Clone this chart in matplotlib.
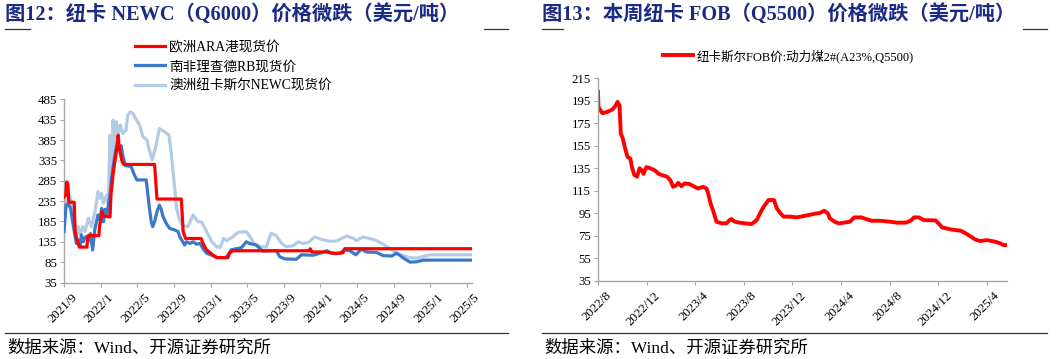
import pandas as pd
import matplotlib.pyplot as plt
from matplotlib.lines import Line2D
from matplotlib.transforms import ScaledTranslation

plt.rcParams['font.family'] = ['Liberation Serif', 'Noto Sans CJK SC']

# ---- left chart: NEWC / ARA / RB spot prices (USD/t)
ara_dates = ['2021-09-01', '2021-09-07', '2021-09-10', '2021-09-14', '2021-09-17', '2021-10-05',
             '2021-10-08', '2021-10-14', '2021-10-22', '2021-11-16', '2021-11-20', '2021-12-26',
             '2021-12-28', '2022-01-05', '2022-01-10', '2022-02-01', '2022-02-04', '2022-02-12',
             '2022-02-22', '2022-02-28', '2022-03-04', '2022-03-13', '2022-03-19', '2022-06-29',
             '2022-07-07', '2022-09-26', '2022-10-02', '2022-10-10', '2022-12-01', '2022-12-07',
             '2022-12-19', '2023-01-10', '2023-01-22', '2023-02-28', '2023-03-05', '2023-03-16',
             '2023-11-25', '2023-11-28', '2023-12-04', '2024-01-20', '2024-02-20', '2024-03-16',
             '2024-03-22', '2025-05-17']
ara_vals = [245, 250, 282, 275, 232, 232,
            160, 140, 122, 122, 150, 150,
            172, 209, 198, 196, 250, 307,
            356, 397, 364, 332, 325, 325,
            240, 240, 160, 143, 143, 131,
            115, 102, 96, 96, 107, 113,
            113, 118, 110, 110, 106, 108,
            118, 118]

rb_dates = ['2021-09-01', '2021-09-08', '2021-09-15', '2021-09-23', '2021-09-30', '2021-10-07',
            '2021-10-12', '2021-10-18', '2021-10-24', '2021-10-29', '2021-11-04', '2021-11-10',
            '2021-11-15', '2021-11-21', '2021-11-28', '2021-12-05', '2021-12-13', '2021-12-18',
            '2021-12-23', '2021-12-29', '2022-01-04', '2022-01-10', '2022-01-15', '2022-01-21',
            '2022-02-01', '2022-02-06', '2022-02-14', '2022-02-20', '2022-02-24', '2022-03-10',
            '2022-03-15', '2022-03-24', '2022-04-12', '2022-04-23', '2022-05-01', '2022-06-01',
            '2022-06-07', '2022-06-12', '2022-06-18', '2022-06-23', '2022-06-29', '2022-07-07',
            '2022-07-15', '2022-07-21', '2022-07-27', '2022-08-07', '2022-08-18', '2022-09-04',
            '2022-09-15', '2022-09-21', '2022-10-07', '2022-10-13', '2022-10-24', '2022-11-04',
            '2022-11-16', '2022-11-27', '2022-12-08', '2022-12-19', '2023-01-05', '2023-01-21',
            '2023-02-19', '2023-03-01', '2023-03-10', '2023-03-27', '2023-04-13', '2023-04-30',
            '2023-05-10', '2023-06-02', '2023-06-23', '2023-07-20', '2023-08-08', '2023-08-19',
            '2023-09-05', '2023-10-13', '2023-10-30', '2023-12-08', '2024-01-05', '2024-01-22',
            '2024-02-08', '2024-03-05', '2024-03-22', '2024-04-08', '2024-04-28', '2024-05-16',
            '2024-06-02', '2024-07-05', '2024-07-28', '2024-08-25', '2024-09-11', '2024-10-03',
            '2024-10-25', '2024-11-17', '2024-12-08', '2025-05-17']
rb_vals = [160, 225, 228, 217, 184, 152,
           131, 140, 123, 152, 135, 145,
           148, 138, 155, 115, 168, 184,
           201, 189, 217, 184, 215, 200,
           250, 291, 332, 360, 371, 371,
           348, 322, 320, 299, 287, 287,
           250, 217, 184, 172, 184, 209,
           225, 215, 197, 180, 168, 164,
           160, 147, 127, 135, 131, 135,
           129, 131, 117, 107, 102, 97,
           96, 103, 115, 118, 120, 135,
           131, 127, 112, 113, 113, 98,
           93, 92, 103, 102, 108, 113,
           107, 107, 115, 113, 103, 117,
           110, 109, 101, 100, 107, 95,
           85, 86, 90, 90]

newc_dates = ['2021-09-01', '2021-09-10', '2021-09-18', '2021-09-26', '2021-10-01', '2021-10-07',
              '2021-10-12', '2021-10-18', '2021-10-25', '2021-11-02', '2021-11-10', '2021-11-21',
              '2021-12-01', '2021-12-13', '2021-12-18', '2021-12-23', '2021-12-29', '2022-01-04',
              '2022-01-10', '2022-01-21', '2022-01-26', '2022-02-01', '2022-02-06', '2022-02-11',
              '2022-02-16', '2022-02-22', '2022-02-27', '2022-03-07', '2022-03-15', '2022-03-26',
              '2022-04-01', '2022-04-09', '2022-04-18', '2022-04-27', '2022-05-10', '2022-05-21',
              '2022-06-04', '2022-06-10', '2022-06-21', '2022-07-04', '2022-07-15', '2022-08-02',
              '2022-08-16', '2022-08-24', '2022-09-04', '2022-09-10', '2022-09-18', '2022-09-26',
              '2022-10-02', '2022-10-18', '2022-11-04', '2022-11-21', '2022-12-02', '2022-12-19',
              '2023-01-05', '2023-01-21', '2023-02-02', '2023-02-13', '2023-02-24', '2023-03-16',
              '2023-04-02', '2023-04-30', '2023-05-10', '2023-05-27', '2023-06-18', '2023-07-05',
              '2023-07-21', '2023-08-08', '2023-08-25', '2023-09-10', '2023-10-02', '2023-10-19',
              '2023-11-05', '2023-11-21', '2023-12-13', '2024-01-05', '2024-02-02', '2024-02-24',
              '2024-03-27', '2024-04-19', '2024-04-30', '2024-05-22', '2024-06-13', '2024-07-05',
              '2024-07-28', '2024-08-19', '2024-09-11', '2024-10-03', '2024-10-25', '2024-11-17',
              '2024-12-08', '2025-01-01', '2025-05-17']
newc_vals = [209, 250, 254, 233, 193, 168,
             152, 172, 152, 172, 160, 193,
             172, 209, 233, 258, 242, 254,
             230, 250, 228, 397, 274, 434,
             356, 430, 397, 422, 401, 409,
             446, 454, 450, 438, 422, 393,
             385, 364, 336, 372, 413, 405,
             397, 348, 266, 217, 193, 180,
             175, 172, 201, 184, 184, 160,
             135, 123, 121, 143, 138, 147,
             158, 160, 150, 129, 123, 122,
             156, 150, 131, 123, 125, 135,
             131, 133, 147, 141, 136, 137,
             149, 144, 138, 147, 143, 138,
             129, 118, 107, 101, 96, 95,
             99, 103, 103]

left_ticks = ['2021/9', '2022/1', '2022/5', '2022/9', '2023/1', '2023/5', '2023/9',
              '2024/1', '2024/5', '2024/9', '2025/1', '2025/5']

# ---- right chart: Newcastle FOB Q5500
fob_dates = ['2022-08-01', '2022-08-02', '2022-08-06', '2022-08-12', '2022-08-23', '2022-09-05',
             '2022-09-13', '2022-09-19', '2022-09-24', '2022-09-27', '2022-10-02', '2022-10-08',
             '2022-10-14', '2022-10-21', '2022-10-25', '2022-10-31', '2022-11-07', '2022-11-13',
             '2022-11-19', '2022-11-23', '2022-11-30', '2022-12-10', '2022-12-22', '2022-12-31',
             '2023-01-08', '2023-01-21', '2023-01-29', '2023-02-05', '2023-02-14', '2023-02-18',
             '2023-02-26', '2023-03-06', '2023-03-18', '2023-03-31', '2023-04-09', '2023-04-21',
             '2023-04-30', '2023-05-04', '2023-05-10', '2023-05-16', '2023-05-25', '2023-06-07',
             '2023-06-19', '2023-06-27', '2023-07-01', '2023-07-10', '2023-07-22', '2023-08-04',
             '2023-08-21', '2023-09-03', '2023-09-11', '2023-09-20', '2023-09-26', '2023-10-02',
             '2023-10-16', '2023-10-23', '2023-11-01', '2023-11-09', '2023-11-25', '2023-12-12',
             '2023-12-29', '2024-01-23', '2024-02-09', '2024-02-19', '2024-02-28', '2024-03-04',
             '2024-03-16', '2024-03-27', '2024-04-07', '2024-04-23', '2024-05-04', '2024-05-22',
             '2024-06-05', '2024-06-17', '2024-07-08', '2024-08-03', '2024-08-19', '2024-09-10',
             '2024-09-22', '2024-10-01', '2024-10-13', '2024-10-25', '2024-11-24', '2024-12-05',
             '2024-12-10', '2025-01-01', '2025-01-26', '2025-02-08', '2025-02-21', '2025-03-03',
             '2025-03-15', '2025-04-01', '2025-04-22', '2025-05-05', '2025-05-13', '2025-05-21']
fob_vals = [203, 190, 187, 184, 185, 187,
            190, 194, 191, 166, 161.5, 152.6,
            145, 143.7, 136, 129, 127.5, 135,
            133, 130, 136, 135, 133, 130,
            129, 127.5, 124.5, 118.5, 120, 122,
            119, 121.5, 121, 118.5, 117, 118.5,
            117, 112.6, 103.7, 97.8, 87.4, 86,
            86, 89, 89.8, 87.4, 86.6, 86,
            85.4, 89, 95, 100.8, 103.7, 106.7,
            106.7, 99.3, 95, 92, 92, 91.3,
            92.5, 94.3, 95.4, 97.2, 94.8, 90.4,
            87.4, 86, 86.6, 87.4, 91.3, 91.3,
            89.5, 88.3, 88.3, 87.4, 86.6, 86.6,
            88.3, 91.3, 91.3, 88.9, 88.6, 84.5,
            82.4, 80.6, 79.4, 77, 74, 71.7,
            70.3, 71.1, 69.7, 68.2, 66.7, 66.7]

right_ticks = ['2022/8', '2022/12', '2023/4', '2023/8', '2023/12', '2024/4',
               '2024/8', '2024/12', '2025/4']

W, H = 1057, 359
navy = '#1B2A82'
grey = '#A6A6A6'

fig = plt.figure(figsize=(W / 100, H / 100), dpi=100)


def px_axes(x0, y0, x1, y1):
    return fig.add_axes([x0 / W, 1 - y1 / H, (x1 - x0) / W, (y1 - y0) / H])


def style(ax, ticks, yt):
    for s in ['top', 'right']:
        ax.spines[s].set_visible(False)
    for s in ['left', 'bottom']:
        ax.spines[s].set_color(grey)
        ax.spines[s].set_linewidth(1.0)
    ax.tick_params(axis='both', direction='out', length=3, color=grey, labelsize=9.3,
                   labelcolor='black', pad=2)
    ax.set_yticks(yt)
    ax.set_ylim(yt[0], yt[-1])
    tk = pd.to_datetime(ticks, format='%Y/%m')
    ax.set_xticks(tk)
    ax.set_xticklabels(ticks, rotation=45, ha='right', va='top', rotation_mode='anchor')
    shift = ScaledTranslation(7 / 100, -2 / 100, fig.dpi_scale_trans)
    for lab in ax.get_xticklabels():
        lab.set_transform(lab.get_transform() + shift)


def frame(x0, x1, title, seg):
    fig.text((x0) / W, 1 - 14 / H, title, fontsize=14.6, fontweight='bold', color=navy,
             va='center', ha='left')
    for a, b in seg:
        fig.add_artist(Line2D([a / W, b / W], [1 - 29 / H] * 2, color='#333333', lw=0.9))
    fig.add_artist(Line2D([x0 / W, x1 / W], [1 - 333 / H] * 2, color='#333333', lw=0.9))
    fig.text((x0 + 2) / W, 1 - 349 / H, '数据来源：Wind、开源证券研究所', fontsize=12.5,
             va='center', ha='left')


# left panel
ax1 = px_axes(64, 99.3, 471.7, 282.5)
ax1.plot(pd.to_datetime(newc_dates), newc_vals, color='#B4CBE6', lw=2.3, label='澳洲纽卡斯尔NEWC现货价', zorder=2)
ax1.plot(pd.to_datetime(rb_dates), rb_vals, color='#3A78C9', lw=2.3, label='南非理查德RB现货价', zorder=3)
ax1.plot(pd.to_datetime(ara_dates), ara_vals, color='#FF0000', lw=2.3, label='欧洲ARA港现货价', zorder=4)
style(ax1, left_ticks, list(range(35, 486, 50)))
ax1.set_xlim(pd.Timestamp('2021-09-01'), pd.Timestamp('2025-05-18'))
h, l = ax1.get_legend_handles_labels()
ax1.legend(h[::-1], l[::-1], loc='upper left', bbox_to_anchor=(135 / W, 1 - 41 / H),
           bbox_transform=fig.transFigure, frameon=False, fontsize=9.8, handlelength=2.2,
           handletextpad=0.3, labelspacing=0.45, borderpad=0, borderaxespad=0)

frame(5, 508, '图12：纽卡 NEWC（Q6000）价格微跌（美元/吨）', [(5, 30), (484, 508)])

# right panel
ax2 = px_axes(598, 78.3, 1006.7, 280.7)
ax2.plot(pd.to_datetime(fob_dates), fob_vals, color='#FF0000', lw=2.8,
         label='纽卡斯尔FOB价:动力煤2#(A23%,Q5500)')
style(ax2, right_ticks, list(range(35, 216, 20)))
ax2.set_xlim(pd.Timestamp('2022-08-01'), pd.Timestamp('2025-05-21'))
ax2.legend(loc='upper left', bbox_to_anchor=(663 / W, 1 - 49 / H), bbox_transform=fig.transFigure,
           frameon=False, fontsize=9, handlelength=2.4, handletextpad=0.3, borderpad=0,
           borderaxespad=0)

frame(542, 1047, '图13：本周纽卡 FOB（Q5500）价格微跌（美元/吨）', [(542, 563), (1023, 1047)])

fig.savefig('out.png', dpi=100)
